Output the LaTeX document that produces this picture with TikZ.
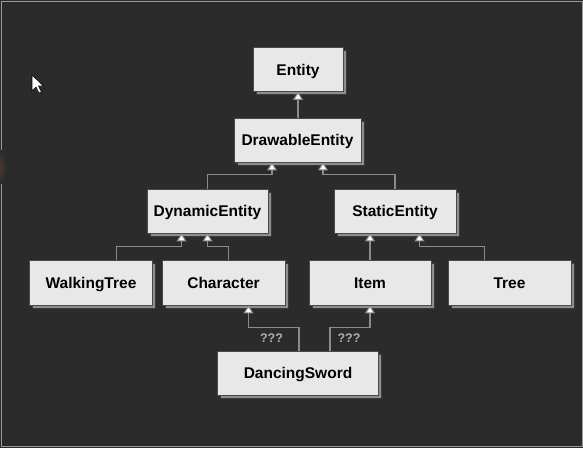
\documentclass[tikz,border=0pt]{standalone}
\usepackage{fontspec}
\setmainfont{Liberation Sans}
\usetikzlibrary{arrows.meta,shadows,calc}
\definecolor{bg}{HTML}{2B2B2B}
\definecolor{framec}{HTML}{9A9A9A}
\definecolor{boxfill}{HTML}{E8E8E8}
\definecolor{boxline}{HTML}{4A4A4A}
\definecolor{shadowc}{HTML}{8E8E8E}
\definecolor{shadowline}{HTML}{3A3A3A}
\definecolor{linec}{HTML}{8C8C8C}
\definecolor{qmark}{HTML}{B0B0B0}
\definecolor{smudge}{HTML}{4A3530}
\begin{document}
\begin{tikzpicture}[x=1pt,y=1pt,
  cls/.style={draw=boxline, fill=boxfill, line width=0.8pt, minimum height=44pt,
    inner sep=0pt, text height=11pt, text depth=0pt, text=black,
    font=\bfseries\fontsize{15.5}{18}\selectfont,
    drop shadow={shadow xshift=3pt, shadow yshift=-3pt, fill=shadowc,
      draw=shadowline, opacity=1}},
  inh/.style={draw=linec, line width=1.6pt,
    -{Triangle[width=10pt,length=8pt,fill=white,line width=1pt]}},
  qlabel/.style={text=qmark, font=\bfseries\fontsize{12.5}{13}\selectfont, inner sep=0pt}]
\fill[bg] (0,0) rectangle (583,-448);
\useasboundingbox (0,0) rectangle (583,-448);
\draw[framec, line width=0.8pt] (1,-1) rectangle (582,-446);
\shade[inner color=smudge, outer color=bg] (0,-167) ellipse [x radius=6, y radius=18];

% cursor
\draw[fill=white, draw=black, line width=0.6pt, line join=miter]
  (32,-75) -- (32,-91) -- (36,-87) -- (39,-93) -- (41.5,-92) -- (38.5,-86) -- (43.5,-86) -- cycle;

% classes
\node[cls, minimum width=90pt]  (entity)   at (298,-69.5) {Entity};
\node[cls, minimum width=127pt] (drawable) at (297.5,-140) {DrawableEntity};
\node[cls, minimum width=121pt] (dynamic)  at (207.5,-211) {DynamicEntity};
\node[cls, minimum width=122pt] (static)   at (395,-211) {StaticEntity};
\node[cls, minimum width=123pt, minimum height=45pt] (walking)  at (91,-282.5) {WalkingTree};
\node[cls, minimum width=123pt, minimum height=45pt] (character) at (223.5,-282.5) {Character};
\node[cls, minimum width=122pt, minimum height=45pt] (item)     at (370,-282.5) {Item};
\node[cls, minimum width=123pt, minimum height=45pt] (tree)     at (509.5,-282.5) {Tree};
\node[cls, minimum width=161pt] (sword)    at (298,-373) {DancingSword};

% connectors
\draw[inh] (entity.south |- drawable.north) -- (entity.south);
\draw[inh] (dynamic.north) -- ++(0,14) -| ($(drawable.south)+(-25.5,0)$);
\draw[inh] (static.north) -- ++(0,14) -| ($(drawable.south)+(25.5,0)$);
\draw[inh] ($(walking.north)+(25.5,0)$) -- ++(0,13) -| ($(dynamic.south)+(-26,0)$);
\draw[inh] ($(character.north)+(5,0)$) -- ++(0,13) -| (dynamic.south);
\draw[inh] (item.north) -- (item.north |- static.south);
\draw[inh] ($(tree.north)+(-25,0)$) -- ++(0,13) -| ($(static.south)+(24.5,0)$);
\draw[inh] ($(sword.north)+(1,0)$) -- ++(0,23) -| ($(character.south)+(25,0)$);
\draw[inh] ($(sword.north)+(32,0)$) -- ++(0,23) -| (item.south);

% labels
\node[qlabel] (q1) at (271.5,-338.5) {???};
\node[qlabel] (q2) at (349,-338.5) {???};
\end{tikzpicture}
\end{document}
